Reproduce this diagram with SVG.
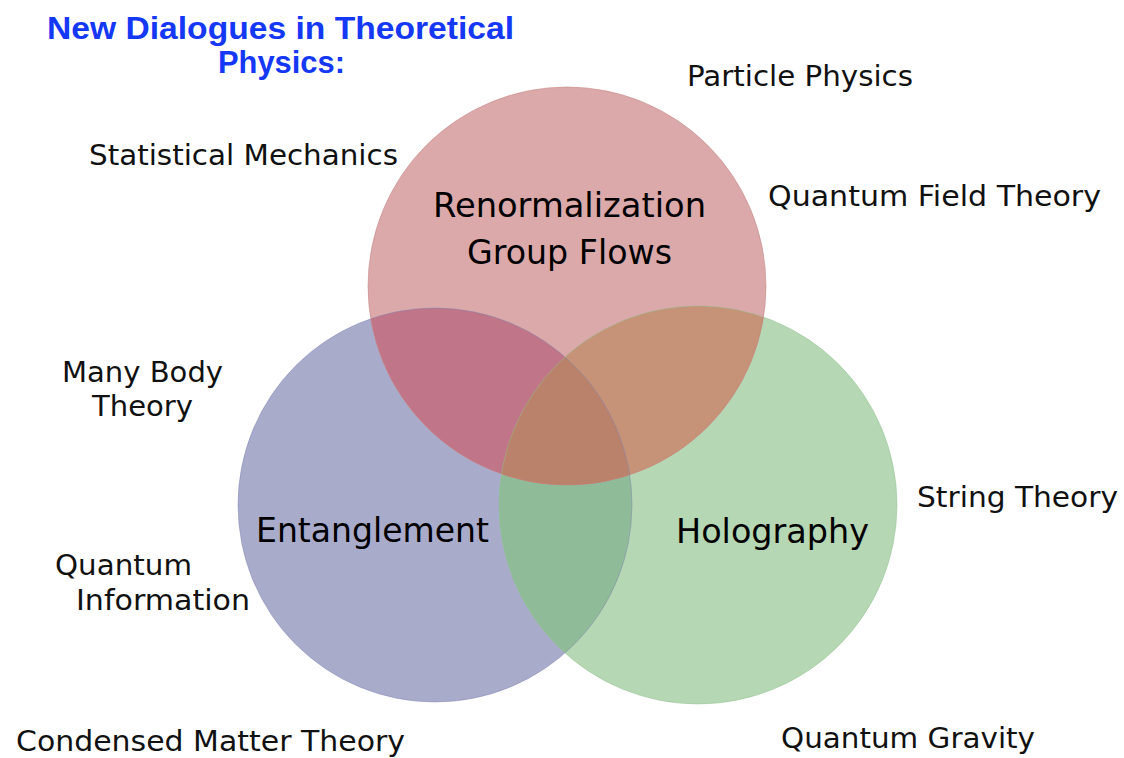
<svg xmlns="http://www.w3.org/2000/svg" width="1124" height="758" viewBox="0 0 1124 758">
<style>
.title{font-family:"Liberation Sans","DejaVu Sans",sans-serif;font-weight:bold;font-size:31px;fill:#1438f5;text-anchor:start}
.lbl{font-family:"DejaVu Sans","Noto Sans",sans-serif;font-size:28px;fill:#111}
.big{font-family:"DejaVu Sans","Noto Sans",sans-serif;font-size:34px;fill:#000}
.edge{fill:none;stroke-width:1}
</style>
<defs>
<clipPath id="cB"><circle cx="435" cy="505" r="197"/></clipPath>
<clipPath id="cG"><circle cx="698" cy="505" r="199"/></clipPath>
<clipPath id="cR"><circle cx="567" cy="286" r="199"/></clipPath>
</defs>
<rect width="1124" height="758" fill="#fff"/>
<g id="title">
<text class="title" x="47" y="39" textLength="467" lengthAdjust="spacingAndGlyphs">New Dialogues in Theoretical</text>
<text class="title" x="218" y="73" textLength="127" lengthAdjust="spacingAndGlyphs">Physics:</text>
</g>
<g id="venn">
<circle cx="435" cy="505" r="197" fill="#a9abcb"/>
<circle cx="698" cy="505" r="199" fill="#b6d7b3"/>
<circle cx="698" cy="505" r="199" fill="#8fbb98" clip-path="url(#cB)"/>
<circle cx="567" cy="286" r="199" fill="#dba9a9"/>
<circle cx="567" cy="286" r="199" fill="#c07688" clip-path="url(#cB)"/>
<circle cx="567" cy="286" r="199" fill="#c69378" clip-path="url(#cG)"/>
<g clip-path="url(#cB)"><circle cx="567" cy="286" r="199" fill="#bb826b" clip-path="url(#cG)"/></g>
<circle class="edge" cx="435" cy="505" r="197" stroke="#7d80b0" stroke-opacity="0.45"/>
<circle class="edge" cx="698" cy="505" r="199" stroke="#8cbf8c" stroke-opacity="0.45"/>
<circle class="edge" cx="567" cy="286" r="199" stroke="#c47f80" stroke-opacity="0.5"/>
</g>
<g id="node-rg">
<text class="big" x="433" y="217" textLength="273" lengthAdjust="spacingAndGlyphs">Renormalization</text>
<text class="big" x="467" y="264" textLength="205" lengthAdjust="spacingAndGlyphs">Group Flows</text>
</g>
<g id="node-entanglement">
<text class="big" x="256" y="542" textLength="233" lengthAdjust="spacingAndGlyphs">Entanglement</text>
</g>
<g id="node-holography">
<text class="big" x="676" y="543" textLength="193" lengthAdjust="spacingAndGlyphs">Holography</text>
</g>
<g id="label-particle"><text class="lbl" x="687" y="86" textLength="226" lengthAdjust="spacingAndGlyphs">Particle Physics</text></g>
<g id="label-statmech"><text class="lbl" x="89" y="165" textLength="309" lengthAdjust="spacingAndGlyphs">Statistical Mechanics</text></g>
<g id="label-qft"><text class="lbl" x="768" y="206" textLength="333" lengthAdjust="spacingAndGlyphs">Quantum Field Theory</text></g>
<g id="label-manybody">
<text class="lbl" x="62" y="382" textLength="161" lengthAdjust="spacingAndGlyphs">Many Body</text>
<text class="lbl" x="92" y="416" textLength="101" lengthAdjust="spacingAndGlyphs">Theory</text>
</g>
<g id="label-string"><text class="lbl" x="917" y="507" textLength="201" lengthAdjust="spacingAndGlyphs">String Theory</text></g>
<g id="label-qi">
<text class="lbl" x="55" y="575" textLength="137" lengthAdjust="spacingAndGlyphs">Quantum</text>
<text class="lbl" x="76" y="610" textLength="174" lengthAdjust="spacingAndGlyphs">Information</text>
</g>
<g id="label-cmt"><text class="lbl" x="16" y="751" textLength="389" lengthAdjust="spacingAndGlyphs">Condensed Matter Theory</text></g>
<g id="label-qg"><text class="lbl" x="781" y="748" textLength="254" lengthAdjust="spacingAndGlyphs">Quantum Gravity</text></g>
<g id="connectors"/>
</svg>
